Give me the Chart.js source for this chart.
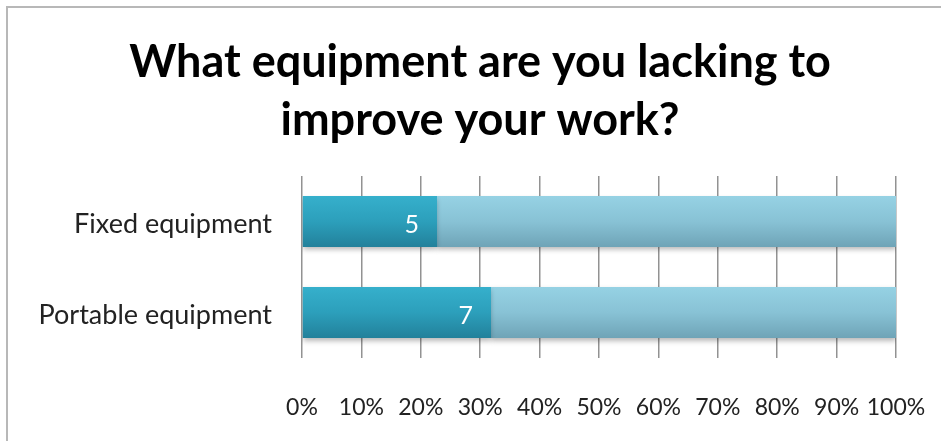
<!DOCTYPE html>
<html>
<head>
<meta charset="utf-8">
<title>Equipment survey</title>
<script src="https://cdn.jsdelivr.net/npm/chart.js@4/dist/chart.umd.min.js"></script>
<style>
    html, body { margin: 0; padding: 0; background: #fff; overflow: hidden; }
    #wrap { position: relative; width: 941px; height: 441px; }
    #frame {
        position: absolute; left: 6px; top: 6px;
        width: 960px; height: 460px;
        border: 2px solid #b8b8b8; box-sizing: border-box;
    }
    canvas { position: absolute; left: 0; top: 0; }
</style>
</head>
<body>
<div id="wrap">
    <div id="frame"></div>
    <canvas id="equipChart" width="941" height="441"></canvas>
</div>
<script>
const categories = ["Fixed equipment", "Portable equipment"];
const lackingCounts = [5, 7];
const otherCounts = [17, 15];
const tickValues = [0, 10, 20, 30, 40, 50, 60, 70, 80, 90, 100];

// 100% stacked: convert counts to share of each row
const totals = categories.map((c, i) => lackingCounts[i] + otherCounts[i]);
const lackingPct = lackingCounts.map((v, i) => v / totals[i] * 100);
const otherPct = otherCounts.map((v, i) => v / totals[i] * 100);

const FONT = "Lato, 'Open Sans', sans-serif";

// vertical gradient across a single bar
function barFill(stops, fallback) {
    return function(context) {
        const chart = context.chart;
        const yScale = chart.scales && chart.scales.y;
        if (!chart.chartArea || !yScale) return fallback;
        const meta = chart.getDatasetMeta(context.datasetIndex);
        const bar = meta.data[context.dataIndex];
        const center = yScale.getPixelForValue(context.dataIndex);
        const half = bar && bar.height ? bar.height / 2 : 26;
        const g = chart.ctx.createLinearGradient(0, center - half, 0, center + half);
        stops.forEach(s => g.addColorStop(s[0], s[1]));
        return g;
    };
}

const barShadow = {
    id: 'barShadow',
    beforeDatasetsDraw(chart) {
        const ctx = chart.ctx;
        ctx.save();
        ctx.shadowColor = 'rgba(0,0,0,0.28)';
        ctx.shadowBlur = 5;
        ctx.shadowOffsetY = 3;
    },
    afterDatasetsDraw(chart) {
        chart.ctx.restore();
    }
};

const valueLabels = {
    id: 'valueLabels',
    afterDatasetsDraw(chart) {
        const ctx = chart.ctx;
        const meta = chart.getDatasetMeta(0);
        ctx.save();
        ctx.fillStyle = '#ffffff';
        ctx.font = '25px ' + FONT;
        ctx.textAlign = 'right';
        ctx.textBaseline = 'middle';
        meta.data.forEach((bar, i) => {
            ctx.fillText(String(lackingCounts[i]), bar.x - 18, bar.y + 3);
        });
        ctx.restore();
    }
};

new Chart(document.getElementById('equipChart'), {
    type: 'bar',
    data: {
        labels: categories,
        datasets: [
            {
                label: 'Lacking',
                data: lackingPct,
                backgroundColor: barFill([[0, '#36b0cc'], [0.5, '#2c9fbb'], [1, '#22809a']], '#2c9fbb'),
                borderWidth: 0
            },
            {
                label: 'Not lacking',
                data: otherPct,
                backgroundColor: barFill([[0, '#96d2e4'], [0.5, '#88c2d5'], [1, '#6ea3b6']], '#88c2d5'),
                borderWidth: 0
            }
        ]
    },
    options: {
        indexAxis: 'y',
        responsive: false,
        animation: false,
        barPercentage: 0.56,
        categoryPercentage: 1,
        layout: { padding: { left: 19, right: 0, top: 0, bottom: 0 } },
        plugins: {
            legend: { display: false },
            tooltip: { enabled: false },
            title: {
                display: true,
                text: ['What equipment are you lacking to', 'improve your work?'],
                color: '#000',
                font: { family: FONT, size: 45, weight: 'bold', lineHeight: 1.29 },
                padding: { top: 33, bottom: 27 }
            }
        },
        scales: {
            x: {
                stacked: true,
                min: 0,
                max: 100,
                afterBuildTicks: s => { s.ticks = tickValues.map(v => ({ value: v })); },
                afterFit: s => {
                    s.height = 83;
                    s.paddingLeft = 0;
                    s.paddingRight = 45;
                },
                ticks: {
                    callback: v => v + '%',
                    color: '#222',
                    font: { family: FONT, size: 23 },
                    padding: 36,
                    maxRotation: 0,
                    autoSkip: false
                },
                grid: { color: '#929292', lineWidth: 1.5, drawTicks: false },
                border: { display: false }
            },
            y: {
                stacked: true,
                afterFit: s => { s.width = 283; },
                ticks: {
                    color: '#222',
                    font: { family: FONT, size: 27 },
                    padding: 30,
                    labelOffset: 3
                },
                grid: { display: false, drawTicks: false },
                border: { display: false }
            }
        }
    },
    plugins: [barShadow, valueLabels]
});
</script>
</body>
</html>
